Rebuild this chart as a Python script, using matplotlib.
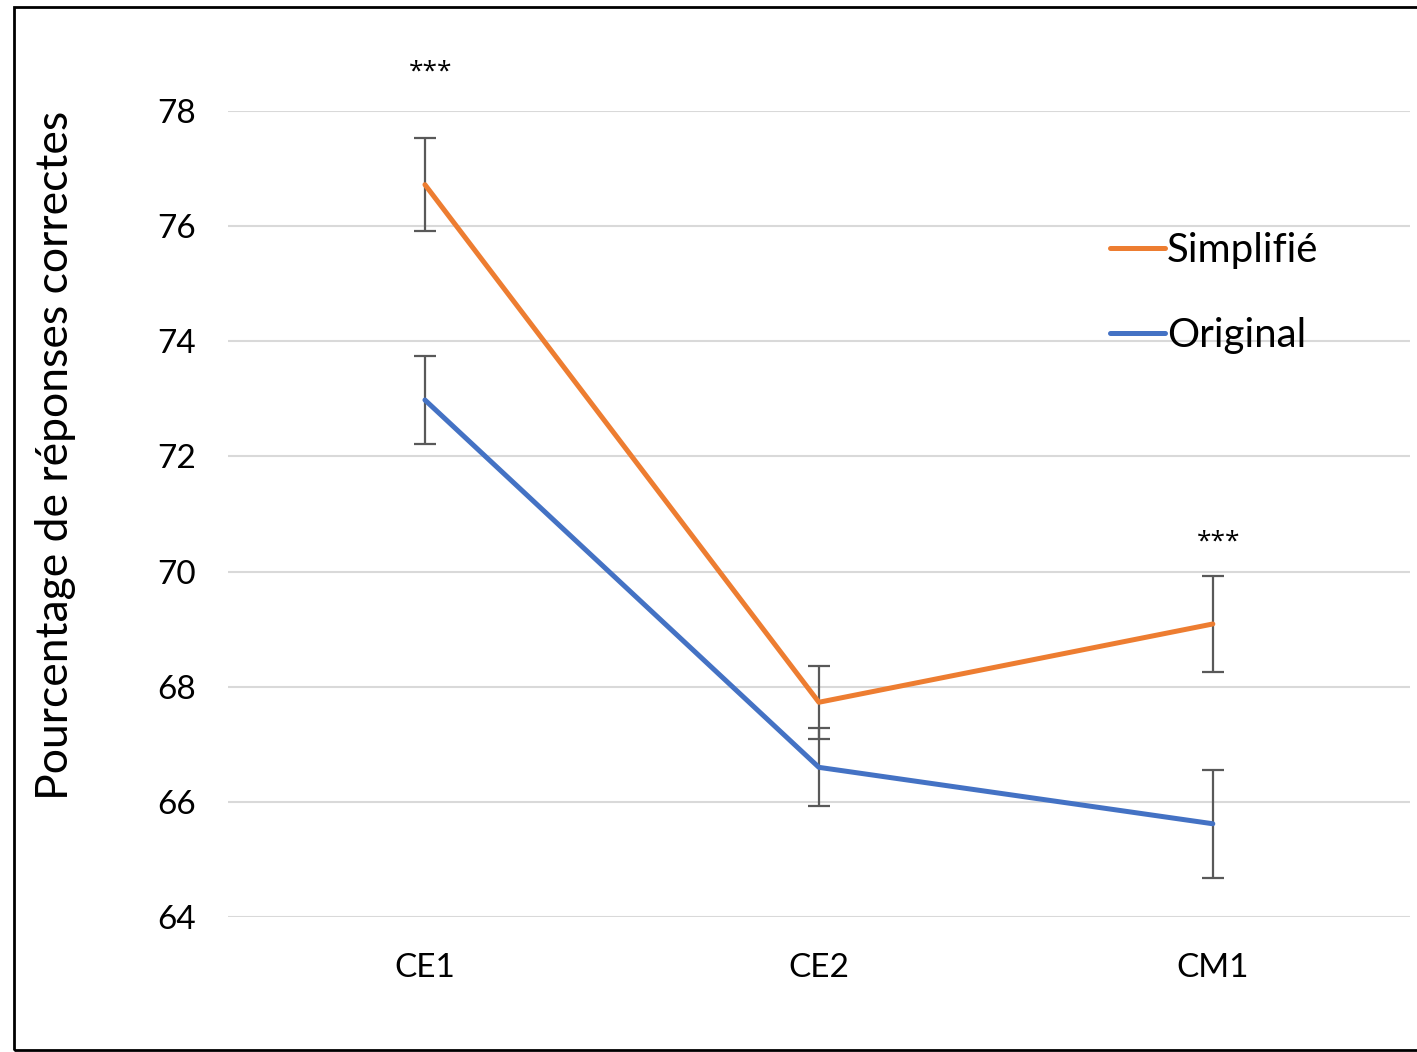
import matplotlib
matplotlib.use("Agg")
import matplotlib.pyplot as plt
from matplotlib.patches import Rectangle

# Data
categories = ["CE1", "CE2", "CM1"]
simplifie = [76.72, 67.73, 69.09]
simplifie_err = [0.81, 0.63, 0.84]
original = [72.98, 66.60, 65.62]
original_err = [0.76, 0.68, 0.94]
y_ticks = [64, 66, 68, 70, 72, 74, 76, 78]
signif_labels = ["***", "", "***"]
signif_y = [78.72, None, 70.57]

plt.rcParams["font.family"] = ["Lato", "DejaVu Sans"]

fig = plt.figure(figsize=(14.17, 10.52), dpi=100)
ax = fig.add_axes([0.1609, 0.1283, 0.834, 0.7662])

x = list(range(len(categories)))
err_color = "#595959"
orange = "#ED7D31"
blue = "#4472C4"

ax.errorbar(x, simplifie, yerr=simplifie_err, fmt="none", ecolor=err_color,
            elinewidth=1.6, capsize=8, capthick=1.6, zorder=2)
ax.errorbar(x, original, yerr=original_err, fmt="none", ecolor=err_color,
            elinewidth=1.6, capsize=8, capthick=1.6, zorder=2)
ax.plot(x, simplifie, color=orange, lw=3.6, solid_capstyle="round", zorder=3,
        label="Simplifié")
ax.plot(x, original, color=blue, lw=3.6, solid_capstyle="round", zorder=3,
        label="Original")

# Significance markers
for xi, lab, yy in zip(x, signif_labels, signif_y):
    if lab:
        ax.text(xi + 0.015, yy, lab, ha="center", va="center_baseline",
                fontsize=19, family=["Open Sans", "DejaVu Sans"])

ax.set_xlim(-0.5, 2.5)
ax.set_ylim(64, 78)
ax.set_yticks(y_ticks)
ax.set_xticks(x)
ax.set_xticklabels(categories)
ax.tick_params(axis="both", length=0, labelsize=24)
ax.tick_params(axis="y", pad=23)
ax.tick_params(axis="x", pad=26)
ax.yaxis.grid(True, color="#D9D9D9", lw=1.5)
ax.set_axisbelow(True)
for s in ax.spines.values():
    s.set_visible(False)

ax.set_ylabel("Pourcentage de réponses correctes", fontsize=32)
ax.yaxis.set_label_coords(-0.129, 0.573)

leg = ax.legend(loc="upper left", bbox_to_anchor=(0.746, 0.850), frameon=False,
                fontsize=29, handlelength=1.37, handletextpad=0.05,
                labelspacing=1.2, borderpad=0, borderaxespad=0)

# Outer frame of the figure
fig.patches.append(Rectangle((14 / 1417, 1 - 1050 / 1052), 1.0, (1050 - 7) / 1052,
                             transform=fig.transFigure, fill=False,
                             edgecolor="black", lw=2.0))

fig.savefig("out.png", dpi=100)
